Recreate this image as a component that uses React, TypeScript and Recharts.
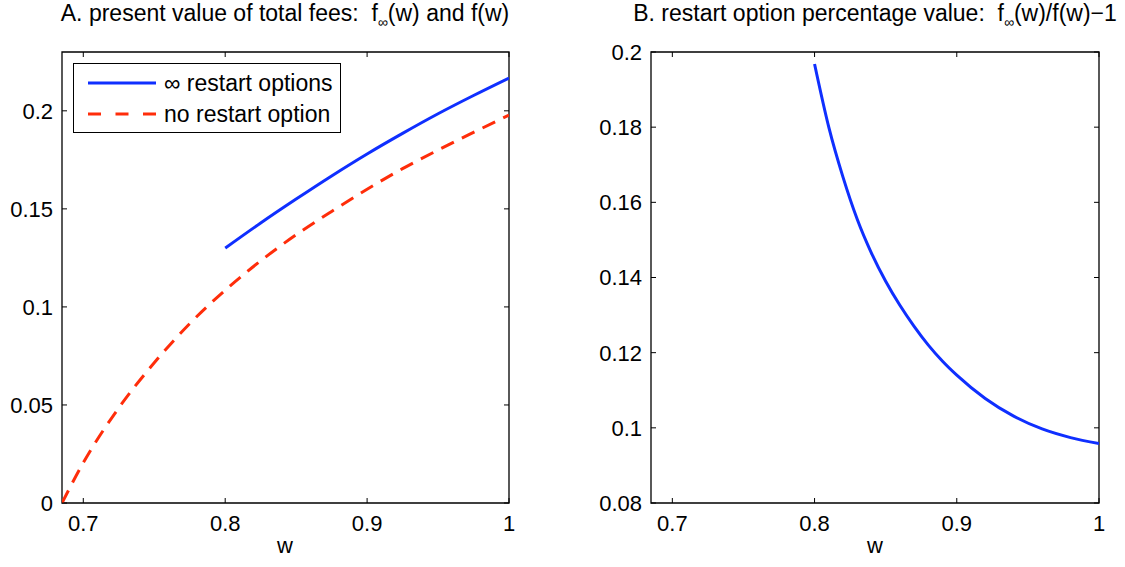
import { LineChart, Line, XAxis, YAxis, ReferenceArea } from 'recharts'

// panel A: present value of total fees
const wInf = [0.8, 0.825, 0.85, 0.875, 0.9, 0.925, 0.95, 0.975, 1.0]
const feesInf = [0.130, 0.1428, 0.155, 0.1668, 0.178, 0.1885, 0.1985, 0.2078, 0.2167]
const wNo = [0.685, 0.7, 0.725, 0.75, 0.775, 0.8, 0.825, 0.85, 0.875, 0.9, 0.925, 0.95, 0.975, 1.0]
const feesNo = [0, 0.0205, 0.0485, 0.0715, 0.0915, 0.1085, 0.1235, 0.1368, 0.1487, 0.16, 0.1705, 0.18, 0.189, 0.1978]

// panel B: restart option percentage value
const wPct = [0.8, 0.81, 0.82, 0.83, 0.84, 0.85, 0.86, 0.87, 0.88, 0.89, 0.9, 0.92, 0.94, 0.96, 0.98, 1.0]
const pctValue = [0.1968, 0.18, 0.1667, 0.1555, 0.1465, 0.139, 0.1326, 0.127, 0.122, 0.1177, 0.114, 0.1078, 0.1031, 0.0997, 0.0974, 0.0958]

const xTicks = [0.7, 0.8, 0.9, 1]
const xDomain: [number, number] = [0.685, 1]
const yTicksA = [0, 0.05, 0.1, 0.15, 0.2]
const yDomainA: [number, number] = [0, 0.23]
const yTicksB = [0.08, 0.1, 0.12, 0.14, 0.16, 0.18, 0.2]
const yDomainB: [number, number] = [0.08, 0.2]

const BLUE = '#0f2fff'
const RED = '#ff2d0a'
const FONT = '"Liberation Sans", Arial, Helvetica, sans-serif'
const FS = 22
const TITLE_FS = 23
const TICK = 5

const toPoints = (xs: number[], ys: number[]) => xs.map((w, i) => ({ w, v: ys[i] }))

type Box = { left: number; right: number; top: number; bottom: number }

const fmt = (v: number) => String(Number(v.toFixed(3)))

function makeXTick(b: Box) {
    return (props: any) => {
        const { x, payload } = props
        return (
            <g>
                <line x1={x} x2={x} y1={b.bottom} y2={b.bottom - TICK} stroke="#000" />
                <line x1={x} x2={x} y1={b.top} y2={b.top + TICK} stroke="#000" />
                <text x={x} y={b.bottom + 28} textAnchor="middle" fontSize={FS} fontFamily={FONT} fill="#000">
                    {fmt(payload.value)}
                </text>
            </g>
        )
    }
}

function makeYTick(b: Box) {
    return (props: any) => {
        const { y, payload } = props
        return (
            <g>
                <line x1={b.left} x2={b.left + TICK} y1={y} y2={y} stroke="#000" />
                <line x1={b.right} x2={b.right - TICK} y1={y} y2={y} stroke="#000" />
                <text x={b.left - 9} y={y} dy="0.36em" textAnchor="end" fontSize={FS} fontFamily={FONT} fill="#000">
                    {fmt(payload.value)}
                </text>
            </g>
        )
    }
}

const boxA: Box = { left: 62, right: 509, top: 52, bottom: 503 }
const boxB: Box = { left: 89, right: 537, top: 52, bottom: 503 }

export default function App() {
    return (
        <div style={{ position: 'absolute', left: 0, top: 0, width: 1125, height: 567, background: '#fff', fontFamily: FONT, color: '#000' }}>
            {/* panel A */}
            <div style={{ position: 'absolute', left: 0, top: 0 }}>
                <LineChart width={562} height={567} margin={{ top: 52, right: 53, bottom: 24, left: 12 }}>
                    <XAxis
                        type="number"
                        dataKey="w"
                        domain={xDomain}
                        ticks={xTicks}
                        interval={0}
                        height={40}
                        tickLine={false}
                        axisLine={false}
                        tick={makeXTick(boxA)}
                        allowDataOverflow
                    />
                    <YAxis
                        type="number"
                        domain={yDomainA}
                        ticks={yTicksA}
                        interval={0}
                        width={50}
                        tickLine={false}
                        axisLine={false}
                        tick={makeYTick(boxA)}
                        allowDataOverflow
                    />
                    <ReferenceArea x1={xDomain[0]} x2={xDomain[1]} y1={yDomainA[0]} y2={yDomainA[1]} fill="none" stroke="#000" strokeWidth={1.3} ifOverflow="visible" />
                    <Line data={toPoints(wNo, feesNo)} dataKey="v" type="monotone" stroke={RED} strokeWidth={3} strokeDasharray="14 9" dot={false} isAnimationActive={false} />
                    <Line data={toPoints(wInf, feesInf)} dataKey="v" type="monotone" stroke={BLUE} strokeWidth={3} dot={false} isAnimationActive={false} />
                </LineChart>
            </div>

            {/* panel B */}
            <div style={{ position: 'absolute', left: 562, top: 0 }}>
                <LineChart width={563} height={567} margin={{ top: 52, right: 26, bottom: 24, left: 39 }}>
                    <XAxis
                        type="number"
                        dataKey="w"
                        domain={xDomain}
                        ticks={xTicks}
                        interval={0}
                        height={40}
                        tickLine={false}
                        axisLine={false}
                        tick={makeXTick(boxB)}
                        allowDataOverflow
                    />
                    <YAxis
                        type="number"
                        domain={yDomainB}
                        ticks={yTicksB}
                        interval={0}
                        width={50}
                        tickLine={false}
                        axisLine={false}
                        tick={makeYTick(boxB)}
                        allowDataOverflow
                    />
                    <ReferenceArea x1={xDomain[0]} x2={xDomain[1]} y1={yDomainB[0]} y2={yDomainB[1]} fill="none" stroke="#000" strokeWidth={1.3} ifOverflow="visible" />
                    <Line data={toPoints(wPct, pctValue)} dataKey="v" type="monotone" stroke={BLUE} strokeWidth={3} dot={false} isAnimationActive={false} />
                </LineChart>
            </div>

            {/* titles */}
            <div style={{ position: 'absolute', left: 0, width: 570, top: 0, textAlign: 'center', fontSize: TITLE_FS, whiteSpace: 'nowrap' }}>
                A. present value of total fees:&nbsp; f<sub style={{ fontSize: 14 }}>∞</sub>(w) and f(w)
            </div>
            <div style={{ position: 'absolute', left: 630, width: 490, top: 0, textAlign: 'center', fontSize: TITLE_FS, whiteSpace: 'nowrap' }}>
                B. restart option percentage value:&nbsp; f<sub style={{ fontSize: 14 }}>∞</sub>(w)/f(w)−1
            </div>

            {/* x labels */}
            <div style={{ position: 'absolute', left: 235, width: 100, top: 533, textAlign: 'center', fontSize: FS }}>w</div>
            <div style={{ position: 'absolute', left: 825, width: 100, top: 533, textAlign: 'center', fontSize: FS }}>w</div>

            {/* legend */}
            <div style={{ position: 'absolute', left: 73, top: 63, width: 266, height: 68, border: '1.3px solid #000', background: '#fff', fontSize: TITLE_FS }}>
                <div style={{ position: 'absolute', left: 0, top: 0, height: 38, display: 'flex', alignItems: 'center', whiteSpace: 'nowrap' }}>
                    <svg width={90} height={10} style={{ display: 'block' }}>
                        <line x1={14} x2={82} y1={5} y2={5} stroke={BLUE} strokeWidth={3} />
                    </svg>
                    <span>∞ restart options</span>
                </div>
                <div style={{ position: 'absolute', left: 0, top: 31, height: 38, display: 'flex', alignItems: 'center', whiteSpace: 'nowrap' }}>
                    <svg width={90} height={10} style={{ display: 'block' }}>
                        <line x1={14} x2={82} y1={5} y2={5} stroke={RED} strokeWidth={3} strokeDasharray="13 14.5" />
                    </svg>
                    <span>no restart option</span>
                </div>
            </div>
        </div>
    )
}
